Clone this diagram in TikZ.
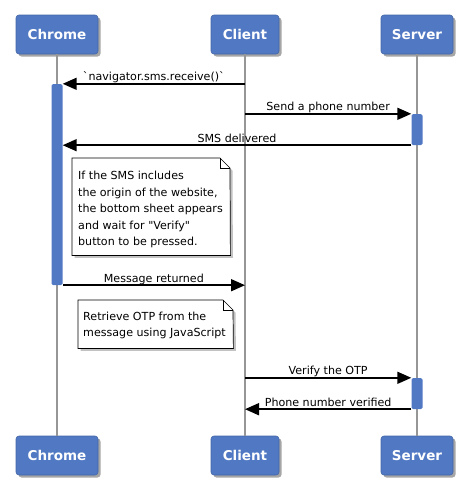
\documentclass[tikz,border=0pt]{standalone}
\usepackage{fontspec}
\setmainfont{DejaVu Sans}
\usetikzlibrary{positioning}
\usetikzlibrary{shadows}
\usetikzlibrary{arrows.meta}
\definecolor{actorblue}{RGB}{80,120,195}
\definecolor{lifegray}{RGB}{150,150,150}

\begin{document}
\begin{tikzpicture}[x=1pt,y=-1pt,
	actor/.style={rectangle, rounded corners=3pt, fill=actorblue, draw=actorblue!85!black, line width=0.6pt, minimum height=39pt, inner sep=0pt, text=white, font=\fontsize{13.5}{16}\selectfont\bfseries, drop shadow={shadow xshift=2.5pt, shadow yshift=-2.5pt, fill=black!50, opacity=0.7}},
	lifeline/.style={lifegray, line width=1.5pt},
	activation/.style={rectangle, rounded corners=1.5pt, fill=actorblue, draw=none, minimum width=11pt, inner sep=0pt},
	msg/.style={line width=1.6pt, -{Triangle[length=14pt,width=12pt]}},
	msglabel/.style={anchor=base, yshift=3pt, inner sep=0pt, font=\fontsize{11.1}{13}\selectfont},
	note/.style={rectangle, inner sep=0pt, draw=none},
	noteedge/.style={draw=black, fill=white, line width=0.7pt},
	notetext/.style={anchor=north west, inner sep=0pt, align=left, font=\fontsize{11.1}{16.5}\selectfont}
]
	\useasboundingbox (0,0) rectangle (468,499);
	% Participants %
	\node[actor, minimum width=82pt] (chrome) at (57,34.5) {Chrome};
	\node[actor, minimum width=68pt] (client) at (245,34.5) {Client};
	\node[actor, minimum width=72pt] (server) at (417,34.5) {Server};
	\node[actor, minimum width=82pt] (chromebottom) at (57,455.5) {Chrome};
	\node[actor, minimum width=68pt] (clientbottom) at (245,455.5) {Client};
	\node[actor, minimum width=72pt] (serverbottom) at (417,455.5) {Server};
	% Lifelines %
	\draw[lifeline] (chrome) -- (chromebottom);
	\draw[lifeline] (client) -- (clientbottom);
	\draw[lifeline] (server) -- (serverbottom);
	% Activations %
	\node[activation, minimum height=201pt] (chromebar) at (57,184.5) {};
	\node[activation, minimum height=31pt] (serverbar1) at (417,129.5) {};
	\node[activation, minimum height=31pt] (serverbar2) at (417,393.5) {};
	% Messages %
	\draw[msg] (chromebar.north east -| client.south) -- (chromebar.north east)
		node[msglabel, midway] {\textasciigrave navigator.sms.receive()\textasciigrave};
	\draw[msg] (serverbar1.north west -| client.south) -- (serverbar1.north west)
		node[msglabel, midway] {Send a phone number};
	\draw[msg] (serverbar1.south west) -- (serverbar1.south west -| chromebar.east)
		node[msglabel, midway] {SMS delivered};
	\draw[msg] (chromebar.south east) -- (chromebar.south east -| client.south)
		node[msglabel, midway] {Message returned};
	\draw[msg] (serverbar2.north west -| client.south) -- (serverbar2.north west)
		node[msglabel, midway] {Verify the OTP};
	\draw[msg] (serverbar2.south west) -- (serverbar2.south west -| client.south)
		node[msglabel, midway] {Phone number verified};
	% Notes %
	\node[note, minimum width=158pt, minimum height=97pt, anchor=north west] (note1) at (72,158) {};
	\filldraw[noteedge, drop shadow={shadow xshift=2.5pt, shadow yshift=-2.5pt, fill=black!40, opacity=0.6}]
		(note1.north west) -- ++(148,0) -- ++(10,10) -- (note1.south east) -- (note1.south west) -- cycle;
	\draw[line width=0.7pt] (note1.north east) ++(-10,0) -- ++(0,10) -- ++(10,0);
	\node[notetext] (note1text) at (78,170.9) {If the SMS includes\\the origin of the website,\\the bottom sheet appears\\and wait for \textquotedbl Verify\textquotedbl\\button to be pressed.};
	\node[note, minimum width=155pt, minimum height=48pt, anchor=north west] (note2) at (78,300) {};
	\filldraw[noteedge, drop shadow={shadow xshift=2.5pt, shadow yshift=-2.5pt, fill=black!40, opacity=0.6}]
		(note2.north west) -- ++(145,0) -- ++(10,10) -- (note2.south east) -- (note2.south west) -- cycle;
	\draw[line width=0.7pt] (note2.north east) ++(-10,0) -- ++(0,10) -- ++(10,0);
	\node[notetext] (note2text) at (83,311.6) {Retrieve OTP from the\\message using JavaScript};
\end{tikzpicture}
\end{document}
